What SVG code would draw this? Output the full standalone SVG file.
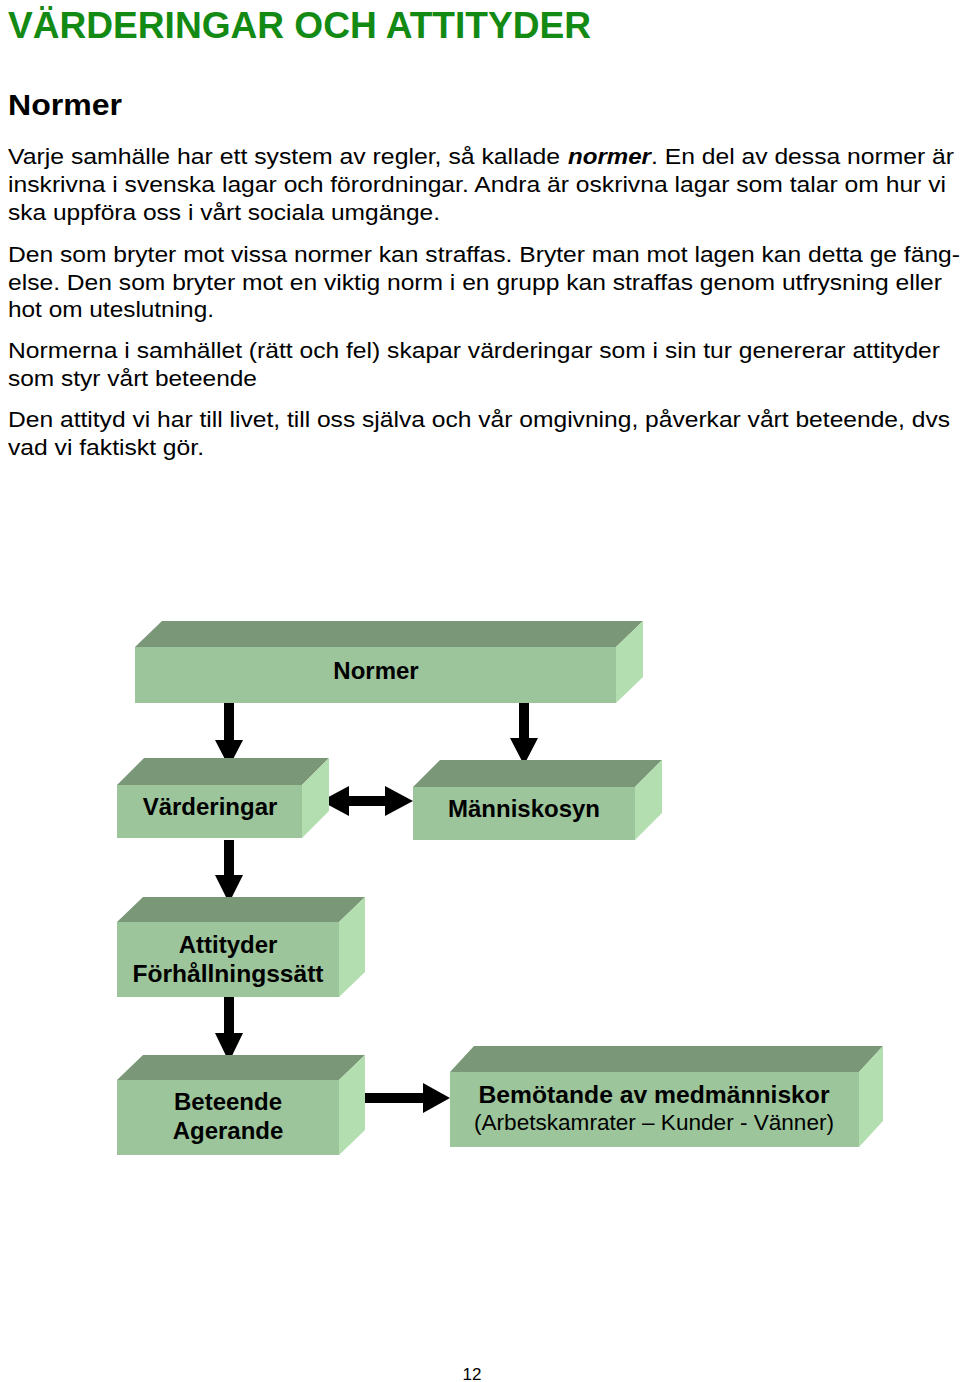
<svg xmlns="http://www.w3.org/2000/svg" width="960" height="1382" viewBox="0 0 960 1382">
<style>
.t{font-family:"Liberation Sans",Arial,sans-serif;font-size:22px;fill:#000}
.b{font-family:"Liberation Sans",Arial,sans-serif;font-weight:bold;fill:#000}
.lbl{font-family:"Liberation Sans",Arial,sans-serif;font-weight:bold;font-size:24px;fill:#000;text-anchor:middle}
.front{fill:#9dc59b}
.top{fill:#7a9878}
.side{fill:#b2deb0}
.arr{fill:#000}
</style>
<rect width="960" height="1382" fill="#fff"/>
<text x="8" y="38" class="b" font-size="36" style="fill:#138a13" textLength="583" lengthAdjust="spacingAndGlyphs">VÄRDERINGAR OCH ATTITYDER</text>
<text x="8" y="115" class="b" font-size="29" textLength="114" lengthAdjust="spacingAndGlyphs">Normer</text>
<text x="8" y="164" class="t" textLength="552" lengthAdjust="spacingAndGlyphs">Varje samhälle har ett system av regler, så kallade</text>
<text x="568" y="164" class="t" font-weight="bold" font-style="italic" textLength="83" lengthAdjust="spacingAndGlyphs">normer</text>
<text x="651" y="164" class="t" textLength="303" lengthAdjust="spacingAndGlyphs">. En del av dessa normer är</text>
<text x="8" y="192" class="t" textLength="938" lengthAdjust="spacingAndGlyphs">inskrivna i svenska lagar och förordningar. Andra är oskrivna lagar som talar om hur vi</text>
<text x="8" y="220" class="t" textLength="432" lengthAdjust="spacingAndGlyphs">ska uppföra oss i vårt sociala umgänge.</text>
<text x="8" y="262" class="t" textLength="952" lengthAdjust="spacingAndGlyphs">Den som bryter mot vissa normer kan straffas. Bryter man mot lagen kan detta ge fäng-</text>
<text x="8" y="290" class="t" textLength="934" lengthAdjust="spacingAndGlyphs">else. Den som bryter mot en viktig norm i en grupp kan straffas genom utfrysning eller</text>
<text x="8" y="317" class="t" textLength="206" lengthAdjust="spacingAndGlyphs">hot om uteslutning.</text>
<text x="8" y="358" class="t" textLength="932" lengthAdjust="spacingAndGlyphs">Normerna i samhället (rätt och fel) skapar värderingar som i sin tur genererar attityder</text>
<text x="8" y="386" class="t" textLength="249" lengthAdjust="spacingAndGlyphs">som styr vårt beteende</text>
<text x="8" y="427" class="t" textLength="942" lengthAdjust="spacingAndGlyphs">Den attityd vi har till livet, till oss själva och vår omgivning, påverkar vårt beteende, dvs</text>
<text x="8" y="455" class="t" textLength="196" lengthAdjust="spacingAndGlyphs">vad vi faktiskt gör.</text>

<g id="connectors">
  <path class="arr" d="M224,703 H234 V740 H243 L229,767 L215,740 H224 Z"/>
  <path class="arr" d="M519,703 H529 V738 H538 L524,765 L510,738 H519 Z"/>
  <path class="arr" d="M321,801 L349,786 V796 H385 V786 L413,801 L385,816 V806 H349 V816 Z"/>
  <path class="arr" d="M224,840 H234 V875 H243 L229,903 L215,875 H224 Z"/>
  <path class="arr" d="M224,997 H234 V1033 H243 L229,1062 L215,1033 H224 Z"/>
  <path class="arr" d="M358,1093 H423 V1083 L450,1098 L423,1113 V1103 H358 Z"/>
</g>

<g id="normer">
  <polygon class="top" points="135,647 162,621 643,621 616,647"/>
  <polygon class="side" points="616,647 643,621 643,677 616,703"/>
  <rect class="front" x="135" y="647" width="481" height="56"/>
  <text x="376" y="679" class="lbl">Normer</text>
</g>

<g id="varderingar">
  <polygon class="top" points="117,785 144,758 329,758 302,785"/>
  <polygon class="side" points="302,785 329,758 329,811 302,838"/>
  <rect class="front" x="117" y="785" width="185" height="53"/>
  <text x="210" y="815" class="lbl">Värderingar</text>
</g>

<g id="manniskosyn">
  <polygon class="top" points="413,787 440,760 662,760 635,787"/>
  <polygon class="side" points="635,787 662,760 662,813 635,840"/>
  <rect class="front" x="413" y="787" width="222" height="53"/>
  <text x="524" y="817" class="lbl">Människosyn</text>
</g>

<g id="attityder">
  <polygon class="top" points="117,922 143,897 365,897 339,922"/>
  <polygon class="side" points="339,922 365,897 365,972 339,997"/>
  <rect class="front" x="117" y="922" width="222" height="75"/>
  <text x="228" y="953" class="lbl">Attityder</text>
  <text x="228" y="982" class="lbl" textLength="191" lengthAdjust="spacingAndGlyphs">Förhållningssätt</text>
</g>

<g id="beteende">
  <polygon class="top" points="117,1080 143,1055 365,1055 339,1080"/>
  <polygon class="side" points="339,1080 365,1055 365,1130 339,1155"/>
  <rect class="front" x="117" y="1080" width="222" height="75"/>
  <text x="228" y="1110" class="lbl">Beteende</text>
  <text x="228" y="1139" class="lbl">Agerande</text>
</g>

<g id="bemotande">
  <polygon class="top" points="450,1072 474,1046 883,1046 859,1072"/>
  <polygon class="side" points="859,1072 883,1046 883,1121 859,1147"/>
  <rect class="front" x="450" y="1072" width="409" height="75"/>
  <text x="654" y="1103" class="lbl" textLength="351" lengthAdjust="spacingAndGlyphs">Bemötande av medmänniskor</text>
  <text x="654" y="1130" class="lbl" style="font-weight:normal;font-size:22px" textLength="360" lengthAdjust="spacingAndGlyphs">(Arbetskamrater – Kunder - Vänner)</text>
</g>

<text x="472" y="1380" class="t" style="font-size:17px" text-anchor="middle">12</text>
</svg>
